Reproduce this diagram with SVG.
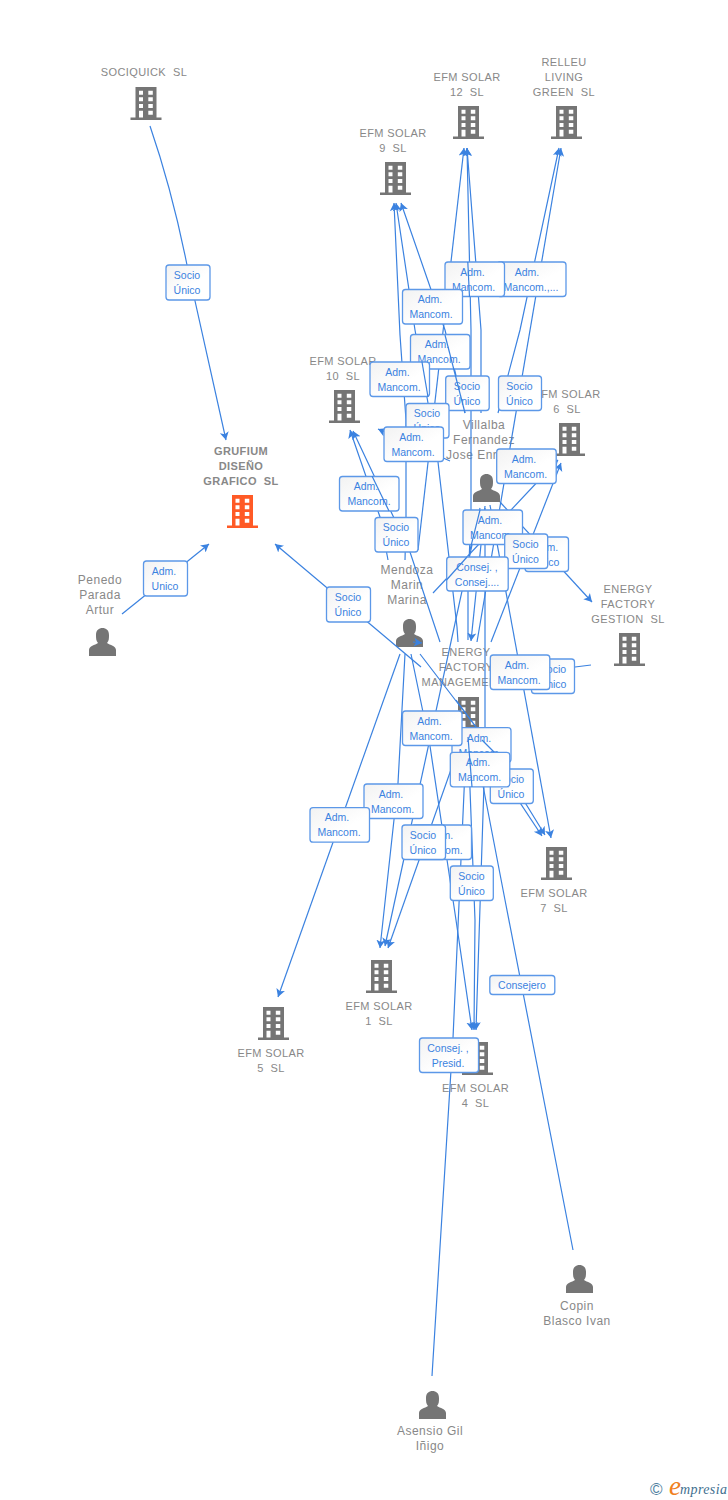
<svg xmlns="http://www.w3.org/2000/svg" width="728" height="1500" viewBox="0 0 728 1500">
<style>
text{font-family:"Liberation Sans",Arial,sans-serif;white-space:pre}
.n{font-size:11px;letter-spacing:.4px;fill:#888;text-anchor:middle}
.b{font-weight:bold}
.p{font-size:12px;letter-spacing:.5px;fill:#888;text-anchor:middle}
.l{font-size:10.5px;fill:#3b82e0;text-anchor:middle}
.r{fill:url(#bg);stroke:#5c98e8;stroke-width:1.3}
.c{fill:none;stroke:#3b82e0;stroke-width:1.2}
.a{marker-end:url(#ah)}
.g{fill:#757575}
.o{fill:#ff5a26}
</style>
<defs>
<linearGradient id="bg" x1="0" y1="0" x2="1" y2="1"><stop offset="0" stop-color="#f2f2f2"/><stop offset=".6" stop-color="#fff"/></linearGradient>
<marker id="ah" markerUnits="userSpaceOnUse" markerWidth="12" markerHeight="12" refX="8" refY="5" orient="auto"><path d="M0 .5L8 5L0 9.500L2 5Z" fill="#3b82e0"/></marker>
<path id="bd" fill-rule="evenodd" d="M5 0H26V30.500H31V33H0V30.500H5ZM8.500 3.700V7.700H12.500V3.700ZM17.800 3.700V7.700H22.300V3.700ZM8.500 10.300V14.300H12.500V10.300ZM17.800 10.300V14.300H22.300V10.300ZM8.500 17V21H12.500V17ZM17.800 17V21H22.300V17ZM8.500 23.700V30.500H12.500V23.700ZM17.800 23.700V27.700H22.300V23.700Z"/>
<path id="pr" d="M0 28V22C0 18 6 17 9 15C7 13 7 10 7 7C7 2 10 0 13.500 0C17 0 20 2 20 7C20 10 20 13 18 15C21 17 27 18 27 22V28Z"/>
</defs>

<g id="nodes">
<g id="sociquick"><text class="n" x="144" y="76">SOCIQUICK  SL</text><use href="#bd" class="g" x="130.500" y="87"/></g>
<g id="efm12"><text class="n" x="467" y="81">EFM SOLAR</text><text class="n" x="467" y="96">12  SL</text><use href="#bd" class="g" x="453" y="106"/></g>
<g id="relleu"><text class="n" x="564" y="66">RELLEU</text><text class="n" x="564" y="81">LIVING</text><text class="n" x="564" y="96">GREEN  SL</text><use href="#bd" class="g" x="551" y="106"/></g>
<g id="efm9"><text class="n" x="393" y="137">EFM SOLAR</text><text class="n" x="393" y="152">9  SL</text><use href="#bd" class="g" x="380" y="162"/></g>
<g id="efm10"><text class="n" x="343" y="365">EFM SOLAR</text><text class="n" x="343" y="380">10  SL</text><use href="#bd" class="g" x="329" y="390"/></g>
<g id="efm6"><text class="n" x="567" y="397.500">EFM SOLAR</text><text class="n" x="567" y="412.500">6  SL</text><use href="#bd" class="g" x="554" y="423"/></g>
<g id="villalba"><text class="p" x="484" y="429">Villalba</text><text class="p" x="484" y="444">Fernandez</text><text class="p" x="484" y="459">Jose Enrique</text><use href="#pr" class="g" x="473" y="474"/></g>
<g id="grufium"><text class="n b" x="241" y="455">GRUFIUM</text><text class="n b" x="241" y="470">DISEÑO</text><text class="n b" x="241" y="485">GRAFICO  SL</text><use href="#bd" class="o" x="227" y="495"/></g>
<g id="penedo"><text class="p" x="100" y="584">Penedo</text><text class="p" x="100" y="599">Parada</text><text class="p" x="100" y="614">Artur</text><use href="#pr" class="g" x="89" y="628"/></g>
<g id="mendoza"><text class="p" x="407" y="574">Mendoza</text><text class="p" x="407" y="589">Marin</text><text class="p" x="407" y="604">Marina</text><use href="#pr" class="g" x="396" y="619"/></g>
<g id="gestion"><text class="n" x="628" y="593">ENERGY</text><text class="n" x="628" y="608">FACTORY</text><text class="n" x="628" y="623">GESTION  SL</text><use href="#bd" class="g" x="614" y="633"/></g>
<g id="management"><text class="n" x="466" y="656">ENERGY</text><text class="n" x="466" y="671">FACTORY</text><text class="n" x="463" y="686">MANAGEMENT</text><use href="#bd" class="g" x="453" y="697"/></g>
<g id="efm7"><use href="#bd" class="g" x="541" y="847"/><text class="n" x="554" y="897">EFM SOLAR</text><text class="n" x="554" y="912">7  SL</text></g>
<g id="efm1"><use href="#bd" class="g" x="366" y="960"/><text class="n" x="379" y="1010">EFM SOLAR</text><text class="n" x="379" y="1025">1  SL</text></g>
<g id="efm5"><use href="#bd" class="g" x="258" y="1007"/><text class="n" x="271" y="1057">EFM SOLAR</text><text class="n" x="271" y="1072">5  SL</text></g>
<g id="efm4"><use href="#bd" class="g" x="462" y="1042"/><text class="n" x="475.500" y="1092">EFM SOLAR</text><text class="n" x="475.500" y="1107">4  SL</text></g>
<g id="copin"><use href="#pr" class="g" x="566" y="1265"/><text class="p" x="577" y="1310">Copin</text><text class="p" x="577" y="1325">Blasco Ivan</text></g>
<g id="asensio"><use href="#pr" class="g" x="419" y="1391"/><text class="p" x="430" y="1435">Asensio Gil</text><text class="p" x="430" y="1450">Iñigo</text></g>
</g>

<g id="connectors">
<path class="c a" d="M150 126Q172 190 187 265L226 440"/>
<path class="c a" d="M122 614L209 544"/>
<path class="c a" d="M421 667L275 544"/>
<path class="c a" d="M400 654L278 997"/>
<path class="c a" d="M405 654L398 783L380 948"/>
<path class="c a" d="M411 654L430 746L456 920L472 1030"/>
<path class="c a" d="M480 508L385 946"/>
<path class="c a" d="M465 730L388 948"/>
<path class="c a" d="M405 560L406 520V420L400 335L394 203"/>
<path class="c a" d="M458 642L457 627L438 462L428 403L415 330L396 203"/>
<path class="c a" d="M465 413L445 330L401 203"/>
<path class="c a" d="M418 550L464 148"/>
<path class="c a" d="M468 640V590L471 510V330L467 148"/>
<path class="c a" d="M481 413V330L467 148"/>
<path class="c a" d="M498 413L520 330L559 148"/>
<path class="c a" d="M477 642L561 148"/>
<path class="c a" d="M388 560L380 517L350 430"/>
<path class="c a" d="M440 642L410 552L353 431"/>
<path class="c a" d="M450 461L378 429"/>
<path class="c a" d="M500 502L592 602"/>
<path class="c a" d="M433 593L558 460"/>
<path class="c a" d="M491 642L561 463"/>
<path class="c a" d="M591 665L575 667L515 688"/>
<path class="c a" d="M420 654L476 727L494 752L545 835"/>
<path class="c a" d="M495 765L542 836"/>
<path class="c a" d="M490 505L551 838"/>
<path class="c a" d="M468 737L475 920L474 1030"/>
<path class="c a" d="M485 508V753L476 1030"/>
<path class="c" d="M432 1376L453 1038L465 770"/>
<path class="c" d="M480 770L505 900L573 1250"/>
<path class="c a" d="M485 506L471 641"/>
<path class="c a" d="M413 642L422 643"/>
</g>

<g id="labels">
<g><rect class="r" x="166" y="265" width="44" height="35" rx="3"/><text class="l" x="187" y="278.500">Socio</text><text class="l" x="187" y="293.500">Único</text></g>
<g><rect class="r" x="143.500" y="561" width="44" height="35" rx="3"/><text class="l" x="164" y="574.500">Adm.</text><text class="l" x="165" y="589.500">Unico</text></g>
<g><rect class="r" x="326.500" y="587" width="44" height="35" rx="3"/><text class="l" x="348" y="600.500">Socio</text><text class="l" x="348" y="615.500">Único</text></g>
<g><rect class="r" x="497" y="262" width="69" height="34.500" rx="3"/><text class="l" x="527" y="275.500">Adm.</text><text class="l" x="531" y="290.500">Mancom.,...</text></g>
<g><rect class="r" x="445" y="262" width="59.500" height="34.500" rx="3"/><text class="l" x="472.500" y="275.500">Adm.</text><text class="l" x="473.500" y="290.500">Mancom.</text></g>
<g><rect class="r" x="402.500" y="289.500" width="60" height="34.500" rx="3"/><text class="l" x="430" y="303">Adm.</text><text class="l" x="431" y="318">Mancom.</text></g>
<g><rect class="r" x="410.500" y="334.500" width="59.500" height="34.500" rx="3"/><text class="l" x="437" y="348">Adm.</text><text class="l" x="439" y="363">Mancom.</text></g>
<g><rect class="r" x="370" y="362" width="59.500" height="34.500" rx="3"/><text class="l" x="397.500" y="376">Adm.</text><text class="l" x="399" y="391">Mancom.</text></g>
<g><rect class="r" x="445.700" y="376" width="43.500" height="34.500" rx="3"/><text class="l" x="467" y="389.500">Socio</text><text class="l" x="467" y="404.500">Único</text></g>
<g><rect class="r" x="498.500" y="376" width="43" height="34.500" rx="3"/><text class="l" x="519.500" y="389.500">Socio</text><text class="l" x="519.500" y="404.500">Único</text></g>
<g><rect class="r" x="406" y="403.500" width="43" height="34.500" rx="3"/><text class="l" x="427" y="417">Socio</text><text class="l" x="427" y="432">Único</text></g>
<g><rect class="r" x="384" y="427" width="59.500" height="34.500" rx="3"/><text class="l" x="411.500" y="440.500">Adm.</text><text class="l" x="413" y="455.500">Mancom.</text></g>
<g><rect class="r" x="339.500" y="476.500" width="59.500" height="34.500" rx="3"/><text class="l" x="366" y="490">Adm.</text><text class="l" x="369" y="505">Mancom.</text></g>
<g><rect class="r" x="375" y="517.500" width="43" height="34.500" rx="3"/><text class="l" x="396" y="531">Socio</text><text class="l" x="396" y="546">Único</text></g>
<g><rect class="r" x="496.700" y="449" width="59.500" height="34.500" rx="3"/><text class="l" x="524" y="462.500">Adm.</text><text class="l" x="525.500" y="477.500">Mancom.</text></g>
<g><rect class="r" x="525" y="537" width="43.500" height="34.500" rx="3"/><text class="l" x="546" y="550.500">Adm.</text><text class="l" x="546" y="565.500">Unico</text></g>
<g><rect class="r" x="463" y="510" width="59.500" height="34.500" rx="3"/><text class="l" x="490" y="523.500">Adm.</text><text class="l" x="491.500" y="538.500">Mancom.</text></g>
<g><rect class="r" x="504.700" y="534" width="43" height="34.500" rx="3"/><text class="l" x="525.500" y="547.500">Socio</text><text class="l" x="525.500" y="562.500">Único</text></g>
<g><rect class="r" x="446.700" y="557" width="61.500" height="34" rx="3"/><text class="l" x="477" y="570.500">Consej. ,</text><text class="l" x="477" y="585.500">Consej....</text></g>
<g><rect class="r" x="531.500" y="659" width="43" height="34.500" rx="3"/><text class="l" x="553" y="672.500">Socio</text><text class="l" x="553" y="687.500">Único</text></g>
<g><rect class="r" x="490.300" y="655" width="59.500" height="34.500" rx="3"/><text class="l" x="517" y="668.500">Adm.</text><text class="l" x="519" y="683.500">Mancom.</text></g>
<g><rect class="r" x="490.300" y="769" width="43" height="34.500" rx="3"/><text class="l" x="511" y="782.500">Socio</text><text class="l" x="511" y="797.500">Único</text></g>
<g><rect class="r" x="452" y="727.700" width="59" height="34.500" rx="3"/><text class="l" x="479" y="741.500">Adm.</text><text class="l" x="480" y="756.500">Mancom.</text></g>
<g><rect class="r" x="402.500" y="711" width="59.500" height="34.500" rx="3"/><text class="l" x="429.500" y="724.500">Adm.</text><text class="l" x="431" y="739.500">Mancom.</text></g>
<g><rect class="r" x="450.300" y="752.300" width="59.500" height="34.500" rx="3"/><text class="l" x="478" y="765.500">Adm.</text><text class="l" x="479.500" y="780.500">Mancom.</text></g>
<g><rect class="r" x="364" y="784" width="59" height="34.500" rx="3"/><text class="l" x="391" y="797.500">Adm.</text><text class="l" x="392.500" y="812.500">Mancom.</text></g>
<g><rect class="r" x="310" y="807.700" width="59.500" height="34.500" rx="3"/><text class="l" x="337" y="821">Adm.</text><text class="l" x="339" y="836">Mancom.</text></g>
<g><rect class="r" x="412" y="825" width="59.500" height="34.500" rx="3"/><text class="l" x="441" y="838.500">Adm.</text><text class="l" x="441" y="853.500">Mancom.</text></g>
<g><rect class="r" x="402" y="825" width="43.500" height="34.500" rx="3"/><text class="l" x="423" y="838.500">Socio</text><text class="l" x="423" y="853.500">Único</text></g>
<g><rect class="r" x="450.300" y="866" width="43" height="34.500" rx="3"/><text class="l" x="471.500" y="879.500">Socio</text><text class="l" x="471.500" y="894.500">Único</text></g>
<g><rect class="r" x="489.800" y="975.500" width="65" height="19" rx="3"/><text class="l" x="522" y="988.500">Consejero</text></g>
<g><rect class="r" x="419.500" y="1038" width="59" height="34.500" rx="3"/><text class="l" x="448" y="1051.500">Consej. ,</text><text class="l" x="448" y="1066.500">Presid.</text></g>
</g>

<g id="connectors-over">
<path class="c" d="M467.800 262L469.500 297"/>
<path class="c" d="M445 335L465 413"/>
<path class="c" d="M422 362L428 397"/>
<path class="c" d="M372 476L389 511"/>
<path class="c" d="M480 510L470 550"/>
<path class="c" d="M467 557L446.500 580"/>
<path class="c" d="M456 700L476 727"/>
<path class="c" d="M482 740L494 752"/>
<path class="c" d="M468 737L472 787"/>
</g>

<g id="logo">
<text x="650" y="1495" font-size="17" fill="#4f7f9f">©</text>
<text x="669" y="1495" font-size="27" font-style="italic" fill="#f08020" style="font-family:'Liberation Serif',serif">e</text>
<text x="680" y="1494" font-size="14" letter-spacing=".4" font-style="italic" fill="#3f6f8f" style="font-family:'Liberation Serif',serif">mpresia</text>
</g>
</svg>
